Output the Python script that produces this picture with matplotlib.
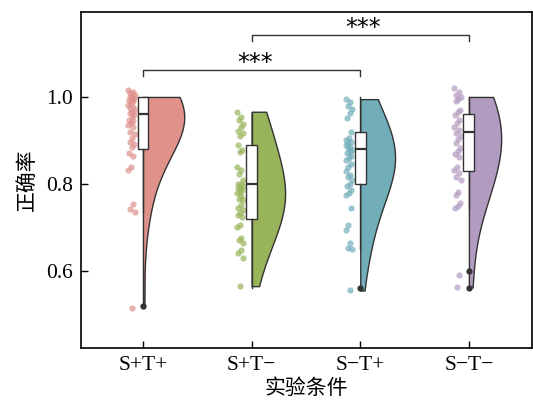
import numpy as np
import matplotlib
matplotlib.use("Agg")
import matplotlib.pyplot as plt

plt.rcParams['font.family'] = ['Liberation Serif', 'Noto Sans CJK SC']
plt.rcParams['axes.unicode_minus'] = False

categories = ['S+T+', 'S+T\u2212', 'S\u2212T+', 'S\u2212T\u2212']
colors = ['#DF918A', '#98B45A', '#71AEBA', '#B29BC0']

pts_stp_tp = [1.015, 1.012, 1.008, 1.005, 1.003, 1.0, 0.998, 0.995, 0.992, 0.99, 0.986,
              0.982, 0.978, 0.975, 0.97, 0.966, 0.962, 0.958, 0.953, 0.948, 0.944, 0.94,
              0.935, 0.93, 0.92, 0.915, 0.905, 0.897, 0.892, 0.885, 0.87, 0.865, 0.84,
              0.833, 0.755, 0.742, 0.735, 0.515]
pts_stp_tm = [0.966, 0.955, 0.948, 0.938, 0.932, 0.922, 0.918, 0.91, 0.89,
              0.878, 0.874, 0.84, 0.832, 0.822, 0.81, 0.80, 0.80, 0.796, 0.79, 0.79, 0.786,
              0.782, 0.78, 0.772, 0.766, 0.762, 0.752, 0.745, 0.74, 0.733, 0.728, 0.724,
              0.706, 0.70, 0.676, 0.67, 0.664, 0.648, 0.641, 0.63, 0.565]
pts_stm_tp = [0.995, 0.988, 0.98, 0.972, 0.962, 0.952, 0.92, 0.905, 0.9, 0.897, 0.893,
              0.89, 0.886, 0.882, 0.878, 0.874, 0.87, 0.865, 0.86, 0.855, 0.845, 0.838,
              0.83, 0.82, 0.815, 0.808, 0.8, 0.795, 0.786, 0.779, 0.775, 0.745, 0.706,
              0.694, 0.664, 0.653, 0.65, 0.555]
pts_stm_tm = [1.02, 1.012, 1.005, 1.0, 0.995, 0.99, 0.97, 0.965, 0.958, 0.947, 0.94,
              0.932, 0.925, 0.917, 0.91, 0.903, 0.895, 0.883, 0.876, 0.868, 0.862, 0.84,
              0.832, 0.825, 0.816, 0.81, 0.782, 0.775, 0.756, 0.75, 0.745, 0.59, 0.562]
points = [pts_stp_tp, pts_stp_tm, pts_stm_tp, pts_stm_tm]

# box statistics
q1 = [0.88, 0.72, 0.80, 0.83]
med = [0.96, 0.80, 0.88, 0.92]
q3 = [1.00, 0.89, 0.92, 0.96]
whislo = [0.735, 0.56, 0.65, 0.745]
whishi = [1.00, 0.96, 1.00, 1.00]
fliers = [[0.52], [], [0.56], [0.60, 0.56]]

# significance
sig_pairs = [(0, 2), (1, 3)]
sig_labels = ['***', '***']

fig = plt.figure(figsize=(5.33, 4.05), dpi=100)
ax = fig.add_axes([0.152, 0.141, 0.846, 0.829])

pos = np.arange(len(categories))

# half violins (right side)
dens_all = []
grids = []
for vals in points:
    d = np.clip(np.array(vals), None, 1.0)
    n = len(d)
    bw = 1.7 * d.std(ddof=1) * n ** (-0.2)
    g = np.linspace(d.min(), d.max(), 300)
    dens = np.exp(-0.5 * ((g[:, None] - d[None, :]) / bw) ** 2).sum(1) / (n * bw * np.sqrt(2 * np.pi))
    dens_all.append(dens)
    grids.append(g)
gmax = max(dd.max() for dd in dens_all)
for i in range(len(points)):
    w = dens_all[i] / gmax * 0.38
    ax.fill_betweenx(grids[i], pos[i], pos[i] + w, facecolor=colors[i],
                     edgecolor='#333333', lw=1.0, zorder=2)

# boxes
stats = []
for i in range(len(points)):
    stats.append(dict(med=med[i], q1=q1[i], q3=q3[i], whislo=whislo[i],
                      whishi=whishi[i], fliers=fliers[i]))
ax.bxp(stats, positions=pos, widths=0.1, patch_artist=True, showcaps=False,
       boxprops=dict(facecolor='white', edgecolor='#333333', lw=1.0),
       medianprops=dict(color='#333333', lw=1.6),
       whiskerprops=dict(color='#333333', lw=1.0),
       flierprops=dict(marker='o', markerfacecolor='#333333', markeredgecolor='#333333',
                       markersize=3.5),
       zorder=3)

# jittered points (left side)
for i, vals in enumerate(points):
    n = len(vals)
    off = (((np.arange(n) * 7) % 11) - 5) / 5.0 * 0.03
    ax.scatter(pos[i] - 0.105 + off, vals, s=20, color=colors[i], alpha=0.7,
               lw=0, zorder=2)

# significance brackets
heights = [1.062, 1.143]
for (a, b), lab, h in zip(sig_pairs, sig_labels, heights):
    ax.plot([a, a, b, b], [h - 0.014, h, h, h - 0.014], color='#333333', lw=1.0)
    ax.text((a + b) / 2 + 0.03, h - 0.012, lab, ha='center', va='bottom',
            fontsize=17, family='DejaVu Sans')

ax.set_xlim(-0.57, 3.58)
ax.set_ylim(0.423, 1.195)
ax.set_xticks(pos)
ax.set_xticklabels(categories)
ax.set_yticks([0.6, 0.8, 1.0])
ax.set_yticklabels(['0.6', '0.8', '1.0'])
ax.tick_params(direction='in', length=5, width=1.0, labelsize=15.5, pad=6)
for s in ax.spines.values():
    s.set_linewidth(1.2)
ax.set_ylabel('正确率', fontsize=15, labelpad=6)
ax.set_xlabel('实验条件', fontsize=15, labelpad=3)

fig.savefig('out.png', dpi=100)
